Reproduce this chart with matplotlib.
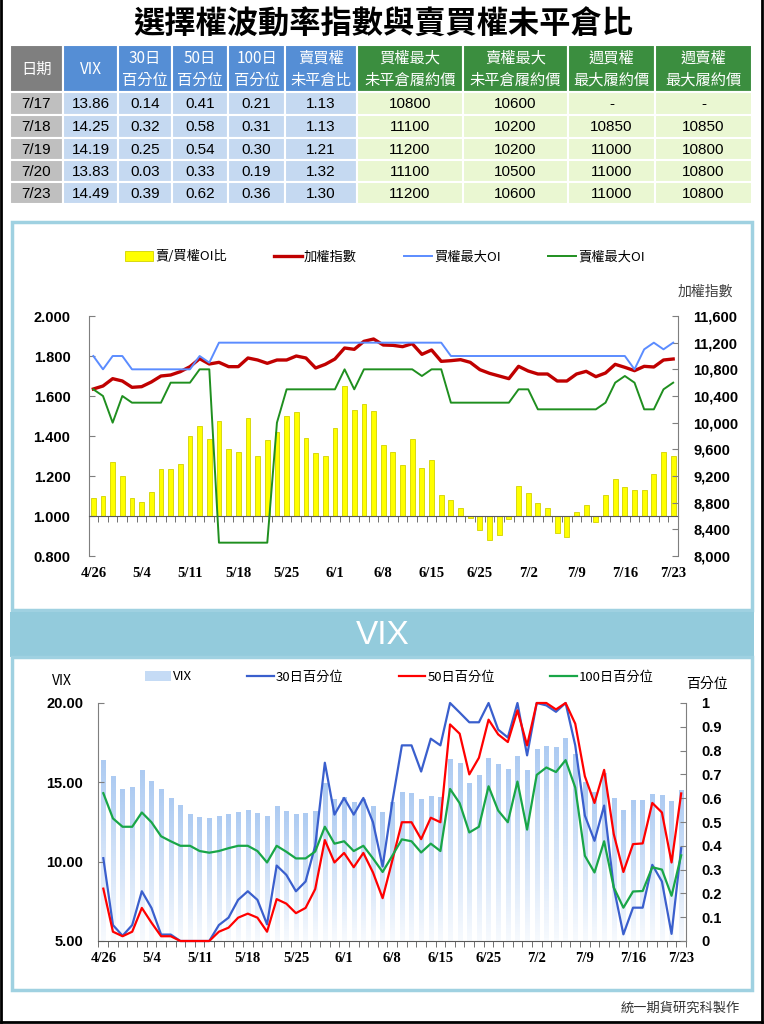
import numpy as np
import matplotlib
matplotlib.use("Agg")
import matplotlib.pyplot as plt
from matplotlib.patches import Rectangle
from matplotlib.colors import LinearSegmentedColormap
from matplotlib.font_manager import FontProperties

W, H = 764, 1024
CJK = ['Noto Sans CJK TC', 'DejaVu Sans']
plt.rcParams['font.family'] = CJK

# ---- table data (last five trading days) ----
tbl_dates = ['7/17', '7/18', '7/19', '7/20', '7/23']
tbl_vix = [13.86, 14.25, 14.19, 13.83, 14.49]
tbl_p30 = [0.14, 0.32, 0.25, 0.03, 0.39]
tbl_p50 = [0.41, 0.58, 0.54, 0.33, 0.62]
tbl_p100 = [0.21, 0.31, 0.30, 0.19, 0.36]
tbl_ratio = [1.13, 1.13, 1.21, 1.32, 1.30]
tbl_call = ['10800', '11100', '11200', '11100', '11200']
tbl_put = ['10600', '10200', '10200', '10500', '10600']
tbl_wcall = ['-', '10850', '11000', '11000', '11000']
tbl_wput = ['-', '10850', '10800', '10800', '10800']

# ---- chart data, 4/26 .. 7/23 (61 trading days) ----
tick_idx = [0, 5, 10, 15, 20, 25, 30, 35, 40, 45, 50, 55, 60]
tick_lbl = ['4/26', '5/4', '5/11', '5/18', '5/25', '6/1', '6/8', '6/15',
            '6/25', '7/2', '7/9', '7/16', '7/23']

oi_ratio = [1.09, 1.10, 1.27, 1.20, 1.09, 1.07, 1.12, 1.235, 1.235, 1.26,
            1.40, 1.45, 1.385, 1.475, 1.335, 1.32, 1.49, 1.30, 1.38, 1.42,
            1.50, 1.52, 1.39, 1.315, 1.30, 1.44, 1.65, 1.53, 1.56, 1.525,
            1.355, 1.32, 1.255, 1.385, 1.24, 1.28, 1.105, 1.08, 1.04, 0.99,
            0.93, 0.88, 0.905, 0.985, 1.15, 1.115, 1.065, 1.04, 0.915, 0.895,
            1.02, 1.055, 0.97, 1.105, 1.185, 1.145, 1.13, 1.13, 1.21, 1.32,
            1.30]
taiex = [10505, 10550, 10660, 10625, 10530, 10540, 10610, 10700, 10715, 10765,
         10840, 10960, 10880, 10905, 10840, 10840, 10970, 10940, 10890, 10940,
         10940, 11000, 10970, 10820, 10875, 10955, 11120, 11100, 11220, 11255,
         11165, 11160, 11140, 11185, 11025, 11090, 10920, 10930, 10945, 10905,
         10795, 10740, 10700, 10660, 10845, 10775, 10730, 10730, 10625, 10625,
         10730, 10770, 10690, 10745, 10875, 10830, 10780, 10845, 10835, 10940,
         10955]
call_oi = [11000, 10800, 11000, 11000, 10800, 10800, 10800, 10800, 10800, 10800,
           10800, 11000, 10900, 11200, 11200, 11200, 11200, 11200, 11200, 11200,
           11200, 11200, 11200, 11200, 11200, 11200, 11200, 11200, 11200, 11200,
           11200, 11200, 11200, 11200, 11200, 11200, 11200, 11000, 11000, 11000,
           11000, 11000, 11000, 11000, 11000, 11000, 11000, 11000, 11000, 11000,
           11000, 11000, 11000, 11000, 11000, 11000, 10800, 11100, 11200, 11100,
           11200]
put_oi = [10500, 10400, 10000, 10400, 10300, 10300, 10300, 10300, 10600, 10600,
          10600, 10800, 10800, 8200, 8200, 8200, 8200, 8200, 8200, 10000,
          10500, 10500, 10500, 10500, 10500, 10500, 10800, 10500, 10800, 10800,
          10800, 10800, 10800, 10800, 10700, 10800, 10800, 10300, 10300, 10300,
          10300, 10300, 10300, 10300, 10500, 10500, 10200, 10200, 10200, 10200,
          10200, 10200, 10200, 10300, 10600, 10700, 10600, 10200, 10200, 10500,
          10600]

vix = [16.42, 15.41, 14.61, 14.72, 15.77, 15.07, 14.57, 14.00, 13.58, 12.99,
       12.82, 12.76, 12.88, 12.99, 13.14, 13.26, 13.05, 12.88, 13.49, 13.20,
       12.99, 13.05, 13.20, 14.97, 13.94, 14.06, 13.77, 13.98, 13.49, 13.16,
       13.75, 14.38, 14.34, 13.94, 14.17, 14.06, 16.48, 16.21, 14.95, 15.47,
       16.55, 16.15, 15.81, 16.69, 15.75, 17.09, 17.26, 17.22, 17.79, 16.80,
       15.00, 14.42, 15.58, 14.00, 13.26, 13.89, 13.86, 14.25, 14.19, 13.83,
       14.49]
p30 = [0.348, 0.067, 0.022, 0.067, 0.209, 0.139, 0.027, 0.027, 0.0, 0.0,
       0.0, 0.0, 0.067, 0.098, 0.173, 0.209, 0.173, 0.07, 0.317, 0.278,
       0.209, 0.25, 0.40, 0.749, 0.531, 0.601, 0.531, 0.601, 0.499, 0.313,
       0.583, 0.822, 0.822, 0.712, 0.85, 0.822, 1.0, 0.96, 0.919, 0.919,
       1.0, 0.888, 0.855, 1.0, 0.78, 1.0, 0.99, 0.963, 1.0, 0.822,
       0.527, 0.421, 0.569, 0.225, 0.028, 0.14, 0.14, 0.32, 0.25, 0.03,
       0.39]
p50 = [0.22, 0.039, 0.02, 0.039, 0.139, 0.077, 0.02, 0.02, 0.0, 0.0,
       0.0, 0.0, 0.039, 0.056, 0.098, 0.115, 0.098, 0.039, 0.176, 0.157,
       0.117, 0.139, 0.218, 0.424, 0.33, 0.37, 0.31, 0.37, 0.288, 0.18,
       0.337, 0.499, 0.499, 0.428, 0.518, 0.499, 0.91, 0.871, 0.70, 0.77,
       0.93, 0.868, 0.836, 0.969, 0.822, 1.0, 1.0, 0.973, 1.0, 0.913,
       0.692, 0.58, 0.719, 0.449, 0.29, 0.407, 0.41, 0.58, 0.54, 0.33,
       0.62]
p100 = [0.621, 0.515, 0.48, 0.48, 0.54, 0.499, 0.44, 0.419, 0.40, 0.40,
        0.378, 0.371, 0.378, 0.39, 0.40, 0.40, 0.378, 0.33, 0.40, 0.375,
        0.347, 0.347, 0.376, 0.48, 0.409, 0.419, 0.378, 0.40, 0.347, 0.29,
        0.358, 0.427, 0.419, 0.372, 0.409, 0.378, 0.639, 0.579, 0.456, 0.48,
        0.65, 0.548, 0.499, 0.67, 0.468, 0.698, 0.729, 0.71, 0.76, 0.645,
        0.358, 0.288, 0.419, 0.225, 0.14, 0.208, 0.21, 0.31, 0.30, 0.19,
        0.36]

fp_num = FontProperties(family='Liberation Sans', weight='bold', size=10.5)
fp_date = FontProperties(family='Liberation Serif', weight='bold', size=10.5)
fp_cell = FontProperties(family='Liberation Sans', size=11)

fig = plt.figure(figsize=(W / 100, H / 100), dpi=100)


def px_axes(x0, y0, x1, y1):
    # axes from pixel box (top-left origin)
    a = fig.add_axes([x0 / W, 1 - y1 / H, (x1 - x0) / W, (y1 - y0) / H])
    a.set_facecolor('none')
    return a


bg = fig.add_axes([0, 0, 1, 1])
bg.set_xlim(0, W)
bg.set_ylim(H, 0)
bg.axis('off')

# title
bg.text(383, 25, '選擇權波動率指數與賣買權未平倉比', ha='center', va='center',
        fontsize=22.5, fontweight='bold', color='black')

# ---- table ----
col_edges = [10, 63, 118, 172, 228, 285, 357, 463, 568, 655, 752]
row_edges = [45, 92, 115, 138, 160, 182, 204]
headers = [('日期',), ('VIX',), ('30日', '百分位'), ('50日', '百分位'),
           ('100日', '百分位'), ('賣買權', '未平倉比'), ('買權最大', '未平倉履約價'),
           ('賣權最大', '未平倉履約價'), ('週買權', '最大履約價'), ('週賣權', '最大履約價')]
hdr_col = ['#7f7f7f'] + ['#558ed5'] * 5 + ['#3b8e3f'] * 4
body_col = ['#bfbfbf'] + ['#c5d9f1'] * 5 + ['#eaf7d2'] * 4

for c in range(10):
    x0, x1 = col_edges[c], col_edges[c + 1]
    xc = (x0 + x1) / 2
    bg.add_patch(Rectangle((x0, row_edges[0]), x1 - x0, row_edges[1] - row_edges[0],
                           facecolor=hdr_col[c], edgecolor='white', lw=1.5))
    h = headers[c]
    if len(h) == 1:
        bg.text(xc, 69, h[0], ha='center', va='center', fontsize=11, color='white')
    else:
        bg.text(xc, 58, h[0], ha='center', va='center', fontsize=11, color='white')
        bg.text(xc, 80, h[1], ha='center', va='center', fontsize=11, color='white')

rows = list(zip(tbl_dates,
                [f'{v:.2f}' for v in tbl_vix],
                [f'{v:.2f}' for v in tbl_p30],
                [f'{v:.2f}' for v in tbl_p50],
                [f'{v:.2f}' for v in tbl_p100],
                [f'{v:.2f}' for v in tbl_ratio],
                tbl_call, tbl_put, tbl_wcall, tbl_wput))
for r, row in enumerate(rows):
    y0, y1 = row_edges[r + 1], row_edges[r + 2]
    for c in range(10):
        x0, x1 = col_edges[c], col_edges[c + 1]
        bg.add_patch(Rectangle((x0, y0), x1 - x0, y1 - y0,
                               facecolor=body_col[c], edgecolor='white', lw=1.5))
        bg.text((x0 + x1) / 2, (y0 + y1) / 2 + 0.5, row[c], ha='center', va='center',
                fontproperties=fp_cell, color='black')

# ---- panels ----
bg.add_patch(Rectangle((12, 222), 740, 388, fill=False, edgecolor='#9fd1e1', lw=2.5))
bg.add_patch(Rectangle((10, 612), 744, 45, facecolor='#93cbdc', edgecolor='none'))
bg.add_patch(Rectangle((12, 657), 740, 333, fill=False, edgecolor='#9fd1e1', lw=2.5))
bg.text(383, 636, 'VIX', ha='center', va='center', fontsize=24,
        family='Liberation Sans', color='white')

# outer frame
bg.plot([1, 1], [0, 1022], color='black', lw=2)
bg.plot([762, 762], [0, 1022], color='black', lw=2)
bg.plot([1, 762], [1022, 1022], color='black', lw=2)

bg.text(740, 1008, '統一期貨研究科製作', ha='right', va='center', fontsize=9.5, color='#333333')

x = np.arange(len(oi_ratio))
axis_gray = '#7f7f7f'

# ---- top chart ----
ax1 = px_axes(88.5, 316, 678, 556)
bars1 = ax1.bar(x, np.array(oi_ratio) - 1.0, bottom=1.0, width=0.5,
                color='#ffff00', edgecolor='#d2d200', lw=0.6, label='賣/買權OI比')
ax1.set_xlim(-0.5, 60.5)
ax1.set_ylim(0.8, 2.0)
yt = np.arange(0.8, 2.001, 0.2)
ax1.set_yticks(yt, labels=[f'{v:.3f}' for v in yt])
for lab in ax1.get_yticklabels():
    lab.set_fontproperties(fp_num)
ax1.tick_params(axis='y', direction='in', length=4, pad=13, color=axis_gray)
ax1.spines['top'].set_visible(False)
ax1.spines['right'].set_visible(False)
ax1.spines['left'].set_color(axis_gray)
ax1.spines['bottom'].set_position(('data', 1.0))
ax1.spines['bottom'].set_color('#595959')
ax1.set_xticks([])
ax1.set_xticks(np.arange(-0.5, 61, 1), minor=True)
ax1.tick_params(axis='x', which='minor', direction='out', length=4, color='#595959')
sec1 = ax1.secondary_xaxis(0.0)
sec1.set_xticks(tick_idx, labels=tick_lbl)
for lab in sec1.get_xticklabels():
    lab.set_fontproperties(fp_date)
sec1.tick_params(length=0, pad=8)
sec1.spines['bottom'].set_visible(False)

ax2 = ax1.twinx()
ax2.set_facecolor('none')
l_tx, = ax2.plot(x, taiex, color='#c00000', lw=2.4, label='加權指數')
l_call, = ax2.plot(x, call_oi, color='#5b8cff', lw=1.4, label='買權最大OI')
l_put, = ax2.plot(x, put_oi, color='#1f8f1f', lw=1.4, label='賣權最大OI')
ax2.set_ylim(8000, 11600)
yt2 = np.arange(8000, 11601, 400)
ax2.set_yticks(yt2, labels=[f'{v:,}' for v in yt2])
for lab in ax2.get_yticklabels():
    lab.set_fontproperties(fp_num)
ax2.tick_params(axis='y', direction='in', length=4, pad=11, color=axis_gray)
for s in ['top', 'bottom', 'left']:
    ax2.spines[s].set_visible(False)
ax2.spines['right'].set_color(axis_gray)
ax2.set_xlim(-0.5, 60.5)

fig.legend([bars1, l_tx, l_call, l_put], ['賣/買權OI比', '加權指數', '買權最大OI', '賣權最大OI'],
           loc='center', bbox_to_anchor=(385 / W, 1 - 257 / H), ncol=4, frameon=False,
           fontsize=9.5, handlelength=2.1, handletextpad=0.15, columnspacing=3.6)
bg.text(705, 292, '加權指數', ha='center', va='center', fontsize=10, color='#404040')

# ---- bottom chart ----
ax3 = px_axes(98.5, 703, 686, 941)
bars3 = ax3.bar(x, np.array(vix) - 5.0, bottom=5.0, width=0.45,
                color='#c5dbf5', lw=0, label='VIX')
grad_cmap = LinearSegmentedColormap.from_list('vixgrad', ['#f7fafe', '#adcbf2'])
grad = np.linspace(0, 1, 64).reshape(-1, 1)
for b in bars3:
    im = ax3.imshow(grad, extent=[b.get_x(), b.get_x() + b.get_width(), 5, 5 + b.get_height()],
                    aspect='auto', cmap=grad_cmap, origin='lower', zorder=b.get_zorder())
    im.set_clip_path(b)
ax3.set_xlim(-0.5, 60.5)
ax3.set_ylim(5, 20)
yt3 = [5, 10, 15, 20]
ax3.set_yticks(yt3, labels=[f'{v:.2f}' for v in yt3])
for lab in ax3.get_yticklabels():
    lab.set_fontproperties(fp_num)
ax3.tick_params(axis='y', direction='in', length=4, pad=11, color=axis_gray)
ax3.set_xticks(tick_idx, labels=tick_lbl)
for lab in ax3.get_xticklabels():
    lab.set_fontproperties(fp_date)
ax3.tick_params(axis='x', which='major', length=0, pad=8)
ax3.set_xticks(np.arange(-0.5, 61, 1), minor=True)
ax3.tick_params(axis='x', which='minor', direction='out', length=4, color='#595959')
ax3.spines['top'].set_visible(False)
ax3.spines['right'].set_visible(False)
ax3.spines['left'].set_color(axis_gray)
ax3.spines['bottom'].set_color('#595959')

ax4 = ax3.twinx()
ax4.set_facecolor('none')
l30, = ax4.plot(x, p30, color='#3a5fcd', lw=1.6, label='30日百分位', clip_on=False)
l50, = ax4.plot(x, p50, color='#ff0000', lw=1.6, label='50日百分位', clip_on=False)
l100, = ax4.plot(x, p100, color='#19a648', lw=1.6, label='100日百分位', clip_on=False)
ax4.set_ylim(0, 1)
yt4 = np.round(np.arange(0, 1.001, 0.1), 1)
ax4.set_yticks(yt4, labels=['0' if v == 0 else ('1' if v == 1 else f'{v:.1f}') for v in yt4])
for lab in ax4.get_yticklabels():
    lab.set_fontproperties(fp_num)
ax4.tick_params(axis='y', direction='in', length=4, pad=11, color=axis_gray)
for s in ['top', 'bottom', 'left']:
    ax4.spines[s].set_visible(False)
ax4.spines['right'].set_color(axis_gray)
ax4.set_xlim(-0.5, 60.5)

fig.legend([bars3, l30, l50, l100], ['VIX', '30日百分位', '50日百分位', '100日百分位'],
           loc='center', bbox_to_anchor=(399 / W, 1 - 677 / H), ncol=4, frameon=False,
           fontsize=9.5, handlelength=2.0, handletextpad=0.15, columnspacing=4.2)
bg.text(62, 681, 'VIX', ha='center', va='center', fontsize=10, color='black')
bg.text(707, 684, '百分位', ha='center', va='center', fontsize=10, color='black')

fig.savefig('out.png', dpi=100)
